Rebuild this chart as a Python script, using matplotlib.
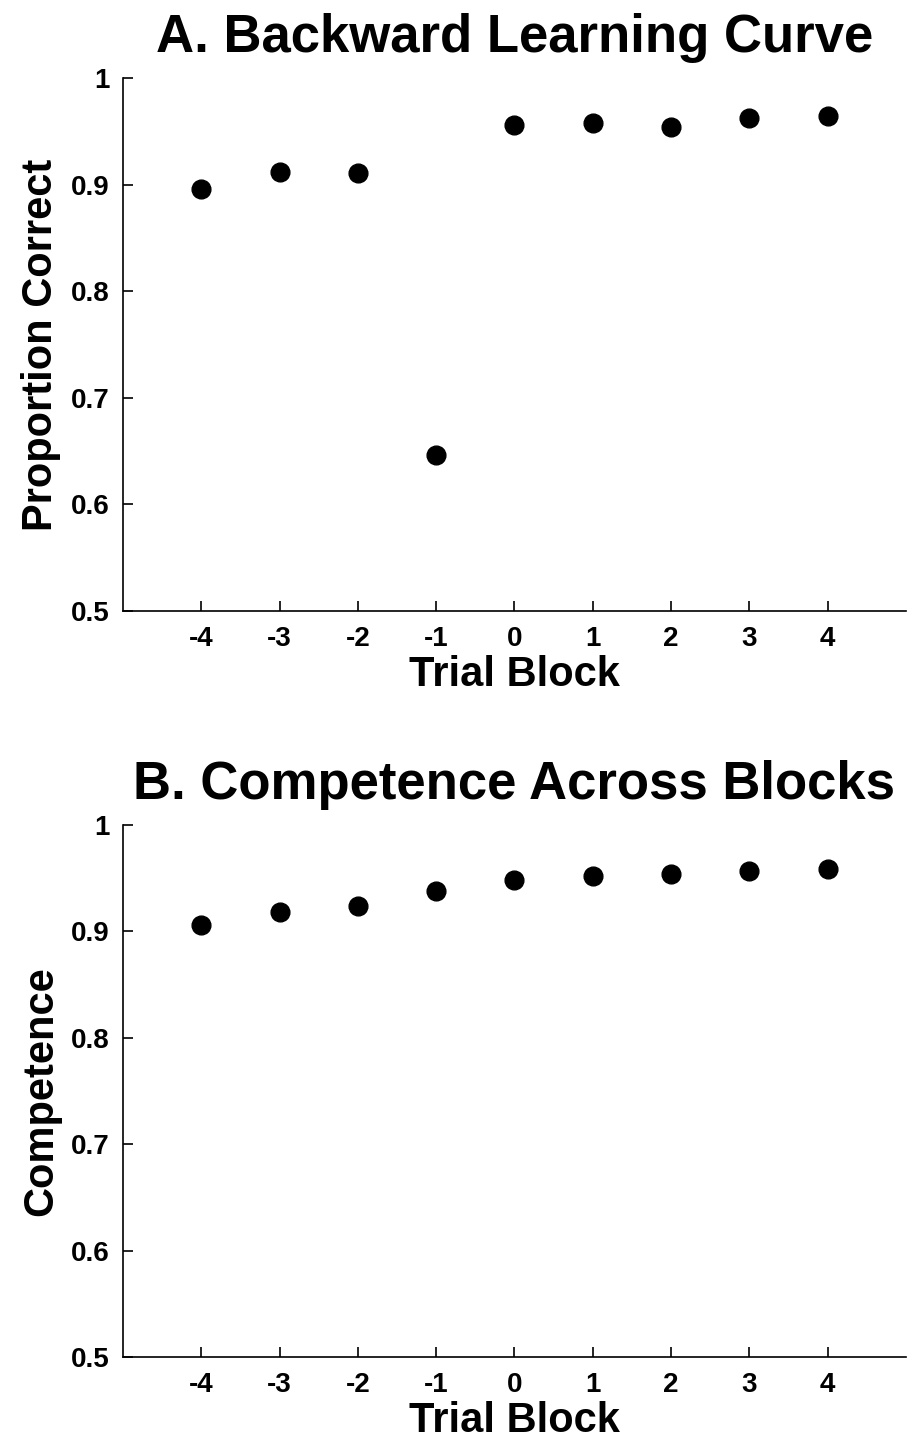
import matplotlib.pyplot as plt

plt.rcParams['font.family'] = ['Liberation Sans', 'DejaVu Sans']
plt.rcParams['font.weight'] = 'bold'

blocks = [-4, -3, -2, -1, 0, 1, 2, 3, 4]
prop_correct = [0.896, 0.912, 0.911, 0.646, 0.956, 0.958, 0.954, 0.962, 0.964]
competence = [0.906, 0.918, 0.924, 0.938, 0.948, 0.952, 0.954, 0.957, 0.959]
yticks = [0.5, 0.6, 0.7, 0.8, 0.9, 1.0]
ytick_labels = ['0.5', '0.6', '0.7', '0.8', '0.9', '1']

fig = plt.figure(figsize=(9.13, 14.41), dpi=100)
axA = fig.add_axes([0.1347, 0.576, 0.8576, 0.3699])
axB = fig.add_axes([0.1347, 0.0583, 0.8576, 0.3692])

panels = [
    (axA, prop_correct, 'A. Backward Learning Curve', 'Proportion Correct'),
    (axB, competence, 'B. Competence Across Blocks', 'Competence'),
]

for ax, vals, title, ylab in panels:
    ax.plot(blocks, vals, 'o', color='black', markersize=13.5)
    ax.set_xlim(-5, 5)
    ax.set_ylim(0.5, 1.0)
    ax.set_xticks(blocks)
    ax.set_xticklabels([str(b) for b in blocks])
    ax.set_yticks(yticks)
    ax.set_yticklabels(ytick_labels)
    ax.spines['top'].set_visible(False)
    ax.spines['right'].set_visible(False)
    for s in ['left', 'bottom']:
        ax.spines[s].set_linewidth(1.2)
    ax.tick_params(direction='in', length=7, width=1.2, labelsize=20)
    ax.tick_params(axis='x', pad=11)
    ax.tick_params(axis='y', pad=9.5)
    ax.set_xlabel('Trial Block', fontsize=30, fontweight='bold', labelpad=2)
    ax.set_ylabel(ylab, fontsize=30, fontweight='bold', labelpad=7)
    ax.set_title(title, fontsize=38, fontweight='bold', pad=19)

fig.savefig('out.png', dpi=100)
